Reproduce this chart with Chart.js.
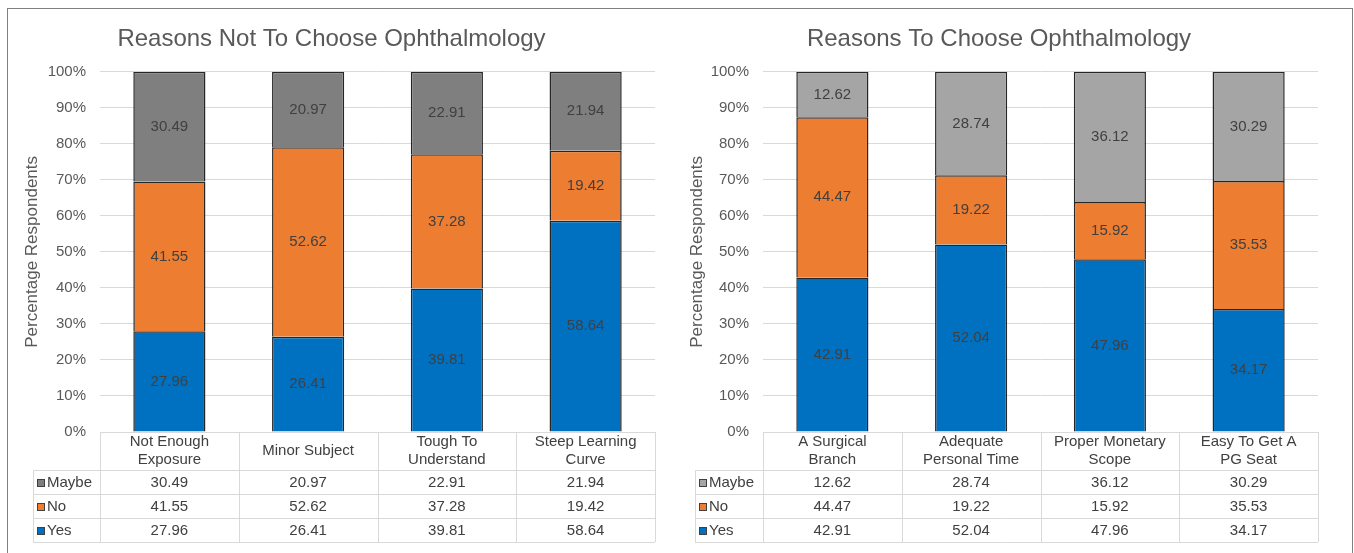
<!DOCTYPE html>
<html>
<head>
<meta charset="utf-8">
<script src="https://cdn.jsdelivr.net/npm/chart.js@4.4.1/dist/chart.umd.min.js"></script>
<style>
  html, body { margin: 0; padding: 0; background: #fff; overflow: hidden; }
  #frame { position: absolute; left: 7px; top: 8px; width: 1344px; height: 560px; border: 1px solid #7f7f7f; }
  #frame canvas { position: absolute; top: 0; }
  #leftChart { left: 0; }
  #rightChart { left: 672px; }
</style>
</head>
<body>
<div id="frame">
  <canvas id="leftChart" width="672" height="544"></canvas>
  <canvas id="rightChart" width="672" height="544"></canvas>
</div>
<script>
// ── data ──
var seriesNames = ['Yes', 'No', 'Maybe'];
var yTickStep = 10;
var yMax = 100;

var leftTitle = 'Reasons Not To Choose Ophthalmology';
var leftCategories = [['Not Enough', 'Exposure'], ['Minor Subject'], ['Tough To', 'Understand'], ['Steep Learning', 'Curve']];
var leftYes = [27.96, 26.41, 39.81, 58.64];
var leftNo = [41.55, 52.62, 37.28, 19.42];
var leftMaybe = [30.49, 20.97, 22.91, 21.94];

var rightTitle = 'Reasons To Choose Ophthalmology';
var rightCategories = [['A Surgical', 'Branch'], ['Adequate', 'Personal Time'], ['Proper Monetary', 'Scope'], ['Easy To Get A', 'PG Seat']];
var rightYes = [42.91, 52.04, 47.96, 34.17];
var rightNo = [44.47, 19.22, 15.92, 35.53];
var rightMaybe = [12.62, 28.74, 36.12, 30.29];

// ── styles ──
var colors = {
  yes: '#0070C0', no: '#ED7D31', maybeDark: '#7F7F7F', maybeLight: '#A5A5A5',
  barBorder: '#262626', grid: '#D9D9D9', tick: '#595959', text: '#404040', title: '#595959',
};
var FONT = "'Liberation Sans', Arial, sans-serif";

// values written in the middle of each bar segment
var segmentLabels = {
  id: 'segmentLabels',
  afterDatasetsDraw: function (chart) {
    var ctx = chart.ctx;
    ctx.save();
    ctx.font = '15px ' + FONT;
    ctx.fillStyle = colors.text;
    ctx.textAlign = 'center';
    ctx.textBaseline = 'middle';
    chart.data.datasets.forEach(function (ds, i) {
      chart.getDatasetMeta(i).data.forEach(function (el, j) {
        ctx.fillText(ds.data[j].toFixed(2), el.x, (el.y + el.base) / 2);
      });
    });
    ctx.restore();
  },
};

// Excel-style data table under the plot
var dataTable = {
  id: 'dataTable',
  afterDraw: function (chart, args, opts) {
    var ctx = chart.ctx;
    var area = chart.chartArea;
    var xs = chart.scales.x;
    var n = chart.data.labels.length;
    var colW = (area.right - area.left) / n;
    var top = area.bottom, headH = 38, rowH = 24;
    var rows = chart.data.datasets.slice().reverse();
    var bottom = top + headH + rows.length * rowH;

    ctx.save();
    ctx.strokeStyle = colors.grid;
    ctx.lineWidth = 1;
    ctx.beginPath();
    // horizontal lines
    ctx.moveTo(area.left, top + 0.5); ctx.lineTo(area.right, top + 0.5);
    for (var r = 0; r <= rows.length; r++) {
      var y = Math.round(top + headH + r * rowH) + 0.5;
      ctx.moveTo(opts.legendLeft, y); ctx.lineTo(area.right, y);
    }
    // vertical lines
    ctx.moveTo(opts.legendLeft + 0.5, top + headH); ctx.lineTo(opts.legendLeft + 0.5, bottom);
    for (var c = 0; c <= n; c++) {
      var x = Math.round(area.left + c * colW) + 0.5;
      ctx.moveTo(x, top); ctx.lineTo(x, bottom);
    }
    ctx.stroke();

    ctx.font = '15px ' + FONT;
    ctx.fillStyle = colors.text;
    ctx.textAlign = 'center';
    ctx.textBaseline = 'middle';
    // header: category names
    chart.data.labels.forEach(function (lines, i) {
      var cx = xs.getPixelForValue(i);
      var cy = top + headH / 2 - (lines.length - 1) * 9;
      lines.forEach(function (ln, k) { ctx.fillText(ln, cx, cy + k * 18); });
    });
    // rows
    rows.forEach(function (ds, r) {
      var cy = top + headH + r * rowH + rowH / 2 + 1;
      ctx.fillStyle = ds.backgroundColor;
      ctx.strokeStyle = colors.text;
      ctx.fillRect(opts.legendLeft + 4, cy - 4, 8, 8);
      ctx.strokeRect(opts.legendLeft + 4.5, cy - 3.5, 7, 7);
      ctx.fillStyle = colors.text;
      ctx.textAlign = 'left';
      ctx.fillText(ds.label, opts.legendLeft + 14, cy);
      ctx.textAlign = 'center';
      ds.data.forEach(function (v, i) { ctx.fillText(v.toFixed(2), xs.getPixelForValue(i), cy); });
    });
    ctx.restore();
  },
};

function createStackedPanel(canvasId, title, categories, yes, no, maybe, maybeColor, geo) {
  var canvas = document.getElementById(canvasId);
  var data = [yes, no, maybe];
  var fills = [colors.yes, colors.no, maybeColor];
  var datasets = seriesNames.map(function (name, i) {
    return {
      label: name, data: data[i],
      backgroundColor: fills[i], borderColor: colors.barBorder, borderWidth: 1.5,
      categoryPercentage: 1, barPercentage: 0.52,
    };
  });
  return new Chart(canvas, {
    type: 'bar',
    data: { labels: categories, datasets: datasets },
    plugins: [segmentLabels, dataTable],
    options: {
      responsive: false, animation: false,
      layout: { padding: { left: 0, right: canvas.width - geo.plotRight, top: 0, bottom: 121 } },
      plugins: {
        legend: { display: false },
        tooltip: { enabled: false },
        title: {
          display: true, text: title, color: colors.title,
          font: { family: FONT, size: 24, weight: 'normal' },
          padding: { top: 16, bottom: 18 },
        },
        dataTable: { legendLeft: geo.legendLeft },
      },
      scales: {
        x: { stacked: true, display: false },
        y: {
          stacked: true, min: 0, max: yMax,
          afterFit: function (scale) { scale.width = geo.plotLeft; },
          grid: { color: colors.grid, drawTicks: false },
          border: { display: false },
          ticks: {
            stepSize: yTickStep, padding: 14, color: colors.tick,
            font: { family: FONT, size: 15 },
            callback: function (v) { return v + '%'; },
          },
          title: {
            display: true, text: 'Percentage Respondents', color: colors.tick,
            font: { family: FONT, size: 17 },
            padding: { top: geo.titlePad, bottom: 0 },
          },
        },
      },
    },
  });
}

createStackedPanel('leftChart', leftTitle, leftCategories, leftYes, leftNo, leftMaybe, colors.maybeDark,
  { plotLeft: 92, plotRight: 647, legendLeft: 25, titlePad: 14 });
createStackedPanel('rightChart', rightTitle, rightCategories, rightYes, rightNo, rightMaybe, colors.maybeLight,
  { plotLeft: 83, plotRight: 638, legendLeft: 15, titlePad: 7 });
</script>
</body>
</html>
